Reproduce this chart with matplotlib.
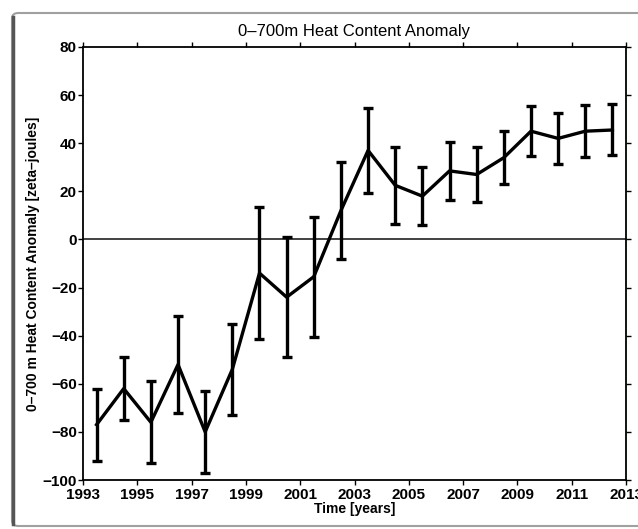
import matplotlib
matplotlib.use("Agg")
from matplotlib import pyplot as plt
from matplotlib.patches import FancyBboxPatch

years = [1993.5, 1994.5, 1995.5, 1996.5, 1997.5, 1998.5, 1999.5, 2000.5, 2001.5, 2002.5,
         2003.5, 2004.5, 2005.5, 2006.5, 2007.5, 2008.5, 2009.5, 2010.5, 2011.5, 2012.5]
anomaly = [-77, -62, -76, -52, -80, -54, -14, -24, -15.5, 12,
           37, 22.5, 18, 28.5, 27, 34, 45, 42, 45, 45.5]
error = [15, 13, 17, 20, 17, 19, 27.5, 25, 25, 20,
         17.5, 16, 12, 12, 11.5, 11, 10.5, 10.5, 10.7, 10.6]

xticks = list(range(1993, 2014, 2))
yticks = list(range(-100, 81, 20))

plt.rcParams["font.family"] = ["Liberation Sans", "DejaVu Sans"]

fig = plt.figure(figsize=(6.38, 5.29), dpi=100)

# rounded frame around the whole figure, as in the screenshot
frame = FancyBboxPatch((12 / 638, 3 / 529), 0.99, 513 / 529,
                       boxstyle="round,pad=0,rounding_size=0.01",
                       transform=fig.transFigure, facecolor="white",
                       edgecolor="#a0a0a0", linewidth=1.5, zorder=-10)
fig.patches.append(frame)
fig.add_artist(plt.Line2D([13 / 638, 13 / 638], [5 / 529, 512 / 529],
                          transform=fig.transFigure, color="#555555", linewidth=2.5))

ax = fig.add_axes([83 / 638, 1 - 480 / 529, 543 / 638, 433 / 529])

ax.axhline(0, color="#333333", linewidth=1.3, zorder=1)
ax.errorbar(years, anomaly, yerr=error, color="black", linewidth=2.4,
            elinewidth=2.4, capsize=3.8, capthick=2.4, zorder=3)

ax.set_xlim(1993, 2013)
ax.set_ylim(-100, 80)
ax.set_xticks(xticks)
ax.set_yticks(yticks)
ax.tick_params(direction="out", length=3.5, width=1, top=True, right=True,
               labelsize=11, pad=1)
ax.tick_params(axis="x", pad=2.5)
for lab in ax.get_xticklabels() + ax.get_yticklabels():
    lab.set_fontweight("bold")
for s in ax.spines.values():
    s.set_linewidth(1.3)

ax.set_title("0–700m Heat Content Anomaly", fontsize=12, pad=8)
ax.set_xlabel("Time [years]", fontsize=10, fontweight="bold", labelpad=0)
ax.set_ylabel("0–700 m Heat Content Anomaly [zeta–joules]", fontsize=10,
              fontweight="bold", labelpad=2)

fig.savefig("out.png", dpi=100)
